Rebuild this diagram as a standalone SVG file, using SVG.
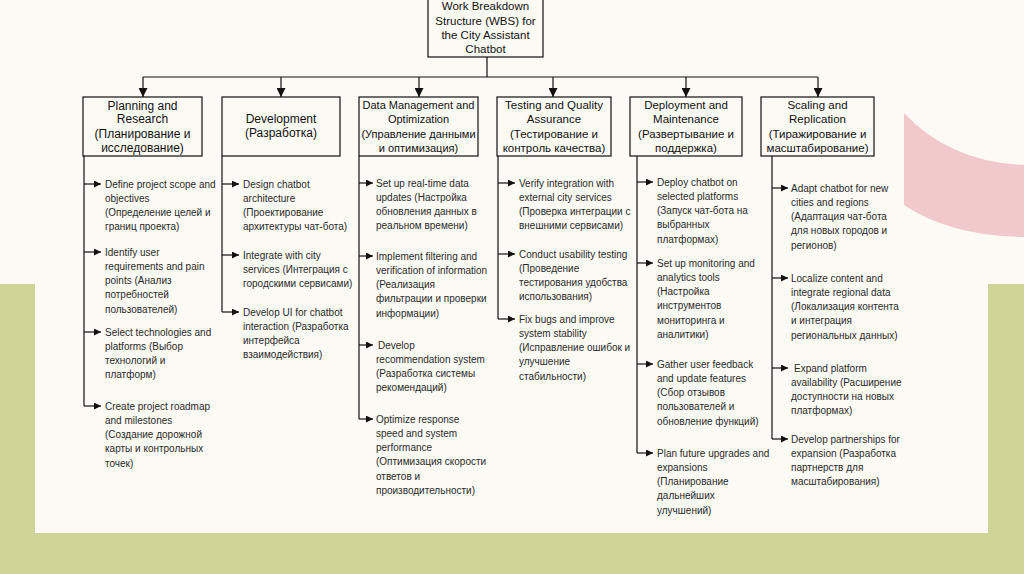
<svg xmlns="http://www.w3.org/2000/svg" width="1024" height="574" viewBox="0 0 1024 574">
<defs>
<marker id="ah" viewBox="0 0 10 10" refX="10" refY="5" markerWidth="9" markerHeight="7" markerUnits="userSpaceOnUse" orient="auto">
<path d="M0,0 L10,5 L0,10 z" fill="#111"/>
</marker>
<marker id="ahd" viewBox="0 0 10 10" refX="10" refY="5" markerWidth="11" markerHeight="9" markerUnits="userSpaceOnUse" orient="auto">
<path d="M0,0 L10,5 L0,10 z" fill="#111"/>
</marker>
</defs>
<style>
.box{fill:none;stroke:#111;stroke-width:1.2}
.ln{fill:none;stroke:#111;stroke-width:1.2}
.h{font-family:"Liberation Sans",Arial,sans-serif;font-size:12px;fill:#111;text-anchor:middle}
.hs{font-size:11px}
.hm{font-size:11.5px}
.t{font-family:"Liberation Sans",Arial,sans-serif;font-size:10px;fill:#2a2a2a}
</style>
<rect x="0" y="0" width="1024" height="574" fill="#fcfaf5"/>
<rect x="0" y="284" width="35" height="290" fill="#d0d396"/>
<rect x="988" y="284" width="36" height="290" fill="#d0d396"/>
<rect x="0" y="533" width="1024" height="41" fill="#d0d396"/>
<path d="M904,113 Q950,162 1024,165 L1024,237 Q950,236 904,205 Z" fill="#f2c9cb"/>

<g id="root">
<rect class="box" x="428" y="-1" width="115" height="58"/>
<text class="h hm"><tspan x="485.5" y="10">Work Breakdown</tspan><tspan x="485.5" y="24.5">Structure (WBS) for</tspan><tspan x="485.5" y="38.5">the City Assistant</tspan><tspan x="485.5" y="53">Chatbot</tspan></text>
</g>

<g id="n1">
<rect class="box" x="83" y="97" width="119" height="59"/>
<text class="h"><tspan x="142.5" y="109.5">Planning and</tspan><tspan x="142.5" y="123">Research</tspan><tspan x="142.5" y="138">(Планирование и</tspan><tspan x="142.5" y="152">исследование)</tspan></text>
</g>
<g id="n2">
<rect class="box" x="222" y="97" width="118" height="59"/>
<text class="h"><tspan x="281" y="122.5">Development</tspan><tspan x="281" y="137">(Разработка)</tspan></text>
</g>
<g id="n3">
<rect class="box" x="359" y="97" width="119" height="59"/>
<text class="h hs"><tspan x="418.5" y="109">Data Management and</tspan><tspan x="418.5" y="123">Optimization</tspan><tspan x="418.5" y="138">(Управление данными</tspan><tspan x="418.5" y="152">и оптимизация)</tspan></text>
</g>
<g id="n4">
<rect class="box" x="497" y="97" width="114" height="59"/>
<text class="h hm"><tspan x="554" y="109">Testing and Quality</tspan><tspan x="554" y="123">Assurance</tspan><tspan x="554" y="138">(Тестирование и</tspan><tspan x="554" y="152">контроль качества)</tspan></text>
</g>
<g id="n5">
<rect class="box" x="630" y="97" width="112" height="59"/>
<text class="h hm"><tspan x="686" y="109">Deployment and</tspan><tspan x="686" y="123">Maintenance</tspan><tspan x="686" y="138">(Развертывание и</tspan><tspan x="686" y="152">поддержка)</tspan></text>
</g>
<g id="n6">
<rect class="box" x="761" y="97" width="113" height="59"/>
<text class="h hm"><tspan x="817.5" y="109">Scaling and</tspan><tspan x="817.5" y="123">Replication</tspan><tspan x="817.5" y="138">(Тиражирование и</tspan><tspan x="817.5" y="152">масштабирование)</tspan></text>
</g>

<g id="connectors">
<path class="ln" d="M487,57 V77 M143,77 H818"/>
<line class="ln" x1="143" y1="77" x2="143" y2="97" marker-end="url(#ahd)"/>
<line class="ln" x1="281" y1="77" x2="281" y2="97" marker-end="url(#ahd)"/>
<line class="ln" x1="419" y1="77" x2="419" y2="97" marker-end="url(#ahd)"/>
<line class="ln" x1="553" y1="77" x2="553" y2="97" marker-end="url(#ahd)"/>
<line class="ln" x1="686" y1="77" x2="686" y2="97" marker-end="url(#ahd)"/>
<line class="ln" x1="818" y1="77" x2="818" y2="97" marker-end="url(#ahd)"/>

<path class="ln" d="M84,156 V406"/>
<line class="ln" x1="84" y1="184" x2="101" y2="184" marker-end="url(#ah)"/>
<line class="ln" x1="84" y1="252" x2="101" y2="252" marker-end="url(#ah)"/>
<line class="ln" x1="84" y1="332" x2="101" y2="332" marker-end="url(#ah)"/>
<line class="ln" x1="84" y1="406" x2="101" y2="406" marker-end="url(#ah)"/>

<path class="ln" d="M222,156 V312"/>
<line class="ln" x1="222" y1="184" x2="239" y2="184" marker-end="url(#ah)"/>
<line class="ln" x1="222" y1="255" x2="239" y2="255" marker-end="url(#ah)"/>
<line class="ln" x1="222" y1="312" x2="239" y2="312" marker-end="url(#ah)"/>

<path class="ln" d="M359,156 V419"/>
<line class="ln" x1="359" y1="183" x2="373" y2="183" marker-end="url(#ah)"/>
<line class="ln" x1="359" y1="256" x2="373" y2="256" marker-end="url(#ah)"/>
<line class="ln" x1="359" y1="345" x2="373" y2="345" marker-end="url(#ah)"/>
<line class="ln" x1="359" y1="419" x2="373" y2="419" marker-end="url(#ah)"/>

<path class="ln" d="M498,156 V319"/>
<line class="ln" x1="498" y1="183" x2="515" y2="183" marker-end="url(#ah)"/>
<line class="ln" x1="498" y1="254" x2="515" y2="254" marker-end="url(#ah)"/>
<line class="ln" x1="498" y1="319" x2="515" y2="319" marker-end="url(#ah)"/>

<path class="ln" d="M637,156 V453"/>
<line class="ln" x1="637" y1="182" x2="653" y2="182" marker-end="url(#ah)"/>
<line class="ln" x1="637" y1="263" x2="653" y2="263" marker-end="url(#ah)"/>
<line class="ln" x1="637" y1="364" x2="653" y2="364" marker-end="url(#ah)"/>
<line class="ln" x1="637" y1="453" x2="653" y2="453" marker-end="url(#ah)"/>

<path class="ln" d="M772,156 V439"/>
<line class="ln" x1="772" y1="188" x2="788" y2="188" marker-end="url(#ah)"/>
<line class="ln" x1="772" y1="278" x2="788" y2="278" marker-end="url(#ah)"/>
<line class="ln" x1="772" y1="368" x2="788" y2="368" marker-end="url(#ah)"/>
<line class="ln" x1="772" y1="439" x2="788" y2="439" marker-end="url(#ah)"/>
</g>

<g id="c1">
<text class="t"><tspan x="105" y="187.5">Define project scope and</tspan><tspan x="105" y="201.8">objectives</tspan><tspan x="105" y="216.1">(Определение целей и</tspan><tspan x="105" y="230.4">границ проекта)</tspan></text>
<text class="t"><tspan x="105" y="255.5">Identify user</tspan><tspan x="105" y="269.8">requirements and pain</tspan><tspan x="105" y="284.1">points (Анализ</tspan><tspan x="105" y="298.4">потребностей</tspan><tspan x="105" y="312.7">пользователей)</tspan></text>
<text class="t"><tspan x="105" y="335.5">Select technologies and</tspan><tspan x="105" y="349.8">platforms (Выбор</tspan><tspan x="105" y="364.1">технологий и</tspan><tspan x="105" y="378.4">платформ)</tspan></text>
<text class="t"><tspan x="105" y="409.5">Create project roadmap</tspan><tspan x="105" y="423.8">and milestones</tspan><tspan x="105" y="438.1">(Создание дорожной</tspan><tspan x="105" y="452.4">карты и контрольных</tspan><tspan x="105" y="466.7">точек)</tspan></text>
</g>

<g id="c2">
<text class="t"><tspan x="243" y="187.5">Design chatbot</tspan><tspan x="243" y="201.8">architecture</tspan><tspan x="243" y="216.1">(Проектирование</tspan><tspan x="243" y="230.4">архитектуры чат-бота)</tspan></text>
<text class="t"><tspan x="243" y="258.5">Integrate with city</tspan><tspan x="243" y="272.8">services (Интеграция с</tspan><tspan x="243" y="287.1">городскими сервисами)</tspan></text>
<text class="t"><tspan x="243" y="315.5">Develop UI for chatbot</tspan><tspan x="243" y="329.8">interaction (Разработка</tspan><tspan x="243" y="344.1">интерфейса</tspan><tspan x="243" y="358.4">взаимодействия)</tspan></text>
</g>

<g id="c3">
<text class="t"><tspan x="376" y="186.5">Set up real-time data</tspan><tspan x="376" y="200.8">updates (Настройка</tspan><tspan x="376" y="215.1">обновления данных в</tspan><tspan x="376" y="229.4">реальном времени)</tspan></text>
<text class="t"><tspan x="376" y="259.5">Implement filtering and</tspan><tspan x="376" y="273.8">verification of information</tspan><tspan x="376" y="288.1">(Реализация</tspan><tspan x="376" y="302.4">фильтрации и проверки</tspan><tspan x="376" y="316.7">информации)</tspan></text>
<text class="t"><tspan x="378" y="348.5">Develop</tspan><tspan x="376" y="362.8">recommendation system</tspan><tspan x="376" y="377.1">(Разработка системы</tspan><tspan x="376" y="391.4">рекомендаций)</tspan></text>
<text class="t"><tspan x="376" y="422.5">Optimize response</tspan><tspan x="376" y="436.8">speed and system</tspan><tspan x="376" y="451.1">performance</tspan><tspan x="376" y="465.4">(Оптимизация скорости</tspan><tspan x="376" y="479.7">ответов и</tspan><tspan x="376" y="494">производительности)</tspan></text>
</g>

<g id="c4">
<text class="t"><tspan x="519" y="186.5">Verify integration with</tspan><tspan x="519" y="200.8">external city services</tspan><tspan x="519" y="215.1">(Проверка интеграции с</tspan><tspan x="519" y="229.4">внешними сервисами)</tspan></text>
<text class="t"><tspan x="519" y="257.5">Conduct usability testing</tspan><tspan x="519" y="271.8">(Проведение</tspan><tspan x="519" y="286.1">тестирования удобства</tspan><tspan x="519" y="300.4">использования)</tspan></text>
<text class="t"><tspan x="519" y="322.5">Fix bugs and improve</tspan><tspan x="519" y="336.8">system stability</tspan><tspan x="519" y="351.1">(Исправление ошибок и</tspan><tspan x="519" y="365.4">улучшение</tspan><tspan x="519" y="379.7">стабильности)</tspan></text>
</g>

<g id="c5">
<text class="t"><tspan x="657" y="185.5">Deploy chatbot on</tspan><tspan x="657" y="199.8">selected platforms</tspan><tspan x="657" y="214.1">(Запуск чат-бота на</tspan><tspan x="657" y="228.4">выбранных</tspan><tspan x="657" y="242.7">платформах)</tspan></text>
<text class="t"><tspan x="657" y="266.5">Set up monitoring and</tspan><tspan x="657" y="280.8">analytics tools</tspan><tspan x="657" y="295.1">(Настройка</tspan><tspan x="657" y="309.4">инструментов</tspan><tspan x="657" y="323.7">мониторинга и</tspan><tspan x="657" y="338">аналитики)</tspan></text>
<text class="t"><tspan x="657" y="367.5">Gather user feedback</tspan><tspan x="657" y="381.8">and update features</tspan><tspan x="657" y="396.1">(Сбор отзывов</tspan><tspan x="657" y="410.4">пользователей и</tspan><tspan x="657" y="424.7">обновление функций)</tspan></text>
<text class="t"><tspan x="657" y="456.5">Plan future upgrades and</tspan><tspan x="657" y="470.8">expansions</tspan><tspan x="657" y="485.1">(Планирование</tspan><tspan x="657" y="499.4">дальнейших</tspan><tspan x="657" y="513.7">улучшений)</tspan></text>
</g>

<g id="c6">
<text class="t"><tspan x="791" y="191.5">Adapt chatbot for new</tspan><tspan x="791" y="205.8">cities and regions</tspan><tspan x="791" y="220.1">(Адаптация чат-бота</tspan><tspan x="791" y="234.4">для новых городов и</tspan><tspan x="791" y="248.7">регионов)</tspan></text>
<text class="t"><tspan x="791" y="281.5">Localize content and</tspan><tspan x="791" y="295.8">integrate regional data</tspan><tspan x="791" y="310.1">(Локализация контента</tspan><tspan x="791" y="324.4">и интеграция</tspan><tspan x="791" y="338.7">региональных данных)</tspan></text>
<text class="t"><tspan x="794" y="371.5">Expand platform</tspan><tspan x="791" y="385.8">availability (Расширение</tspan><tspan x="791" y="400.1">доступности на новых</tspan><tspan x="791" y="414.4">платформах)</tspan></text>
<text class="t"><tspan x="791" y="442.5">Develop partnerships for</tspan><tspan x="791" y="456.8">expansion (Разработка</tspan><tspan x="791" y="471.1">партнерств для</tspan><tspan x="791" y="485.4">масштабирования)</tspan></text>
</g>
</svg>
